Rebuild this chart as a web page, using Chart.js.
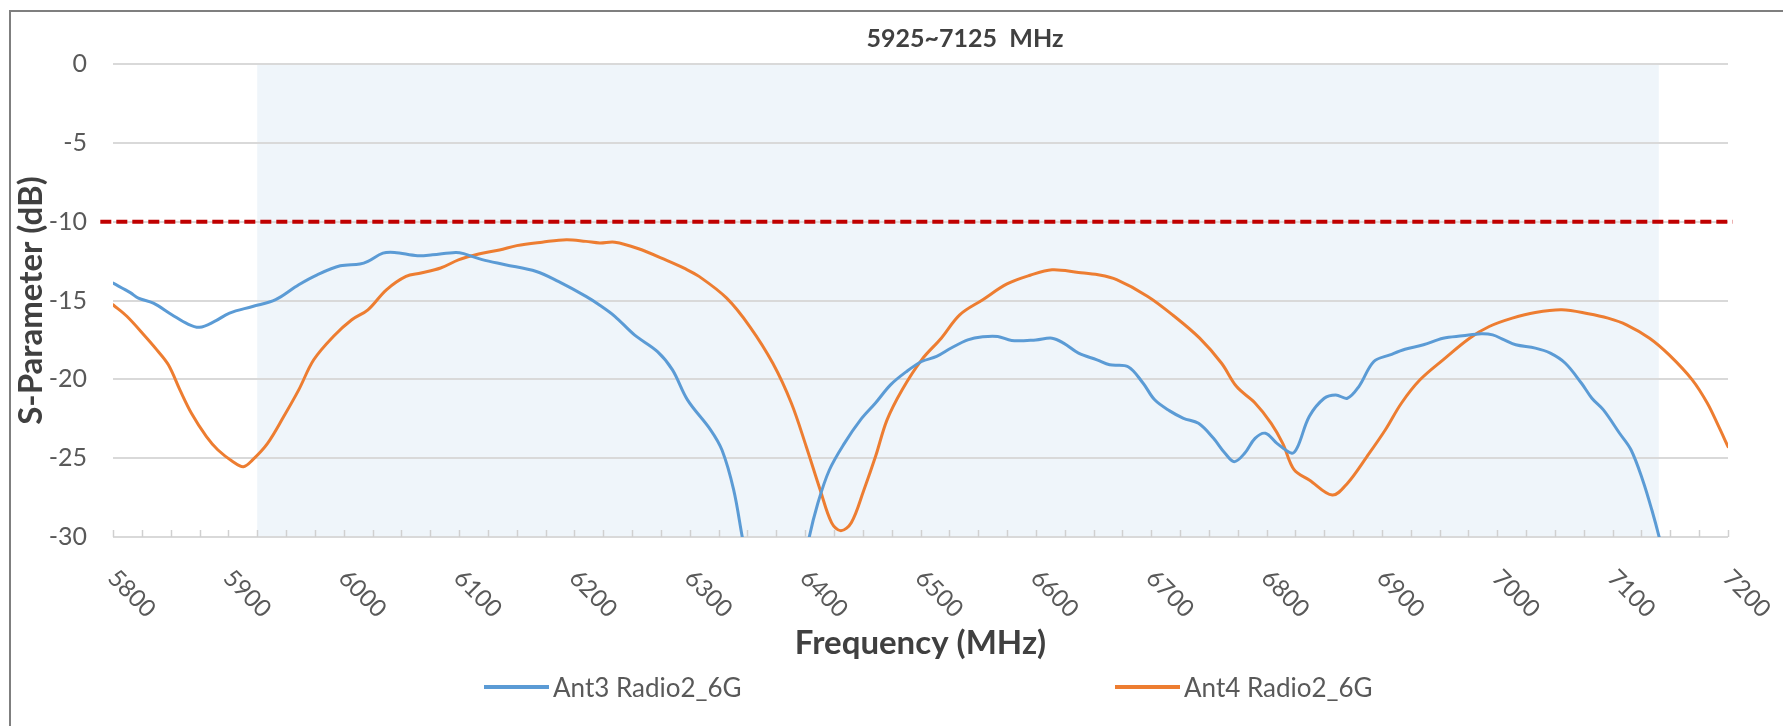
<!DOCTYPE html>
<html>
<head>
<meta charset="utf-8">
<script src="https://cdn.jsdelivr.net/npm/chart.js@4.4.1/dist/chart.umd.min.js"></script>
<style>
  html, body { margin: 0; padding: 0; background: #ffffff; }
  #wrap { position: relative; width: 1783px; height: 726px; overflow: hidden; background: #ffffff; }
  #frame { position: absolute; left: 9px; top: 10px; width: 1900px; height: 900px;
           border-top: 2px solid #7f7f7f; border-left: 2px solid #7f7f7f; }
  #c { position: absolute; left: 0; top: 0; }
  #title { position: absolute; left: 965px; top: 37px; transform: translate(-50%, -50%);
           font-family: Lato, "Open Sans", sans-serif; font-weight: bold; font-size: 25px;
           line-height: 1; color: #404040; white-space: pre; }
  .leg { position: absolute; top: 687px; transform: translateY(-50%); display: flex; align-items: center;
         font-family: Lato, "Open Sans", sans-serif; font-size: 26px; line-height: 1; color: #595959; white-space: pre; }
  .leg .ln { width: 65px; height: 3.5px; margin-right: 4px; }
</style>
</head>
<body>
<div id="wrap">
  <div id="frame"></div>
  <canvas id="c" width="1783" height="726"></canvas>
  <div id="title"></div>
  <div id="legend"></div>
</div>
<script>
// ---------------- data ----------------
const chartTitle = '5925~7125  MHz';
const xAxisTitle = 'Frequency (MHz)';
const yAxisTitle = 'S-Parameter (dB)';
const seriesNames = ['Ant3 Radio2_6G', 'Ant4 Radio2_6G'];

const freqAnt3 = [5800,5815,5822,5835,5851,5865,5875,5888,5901,5921,5941,5961,5977,5997,6014,6021,6034,6044,6064,6077,6097,6104,6120,6140,6167,6186,6210,6222,6235,6252,6272,6285,6298,6318,6328,6338,6346,6355,6368,6382,6395,6403,6411,6421,6434,6448,6461,6474,6488,6501,6514,6527,6541,6554,6567,6579,6600,6614,6624,6637,6653,6664,6680,6693,6703,6716,6728,6741,6754,6764,6772,6781,6790,6799,6809,6822,6827,6837,6850,6860,6870,6880,6893,6907,6920,6936,6953,6970,6986,6996,7006,7016,7033,7046,7059,7073,7082,7092,7106,7116,7126,7134,7141,7150,7175,7200];
const sParamAnt3 = [-13.9,-14.5,-14.85,-15.17,-15.9,-16.5,-16.7,-16.33,-15.8,-15.38,-14.95,-14.0,-13.37,-12.8,-12.69,-12.52,-12.0,-11.95,-12.16,-12.1,-11.95,-12.03,-12.41,-12.73,-13.16,-13.79,-14.74,-15.3,-16.0,-17.18,-18.24,-19.4,-21.3,-23.2,-24.5,-27.0,-30.2,-33.5,-37.0,-38.0,-33.5,-30.2,-27.86,-25.75,-24.06,-22.57,-21.5,-20.35,-19.5,-18.87,-18.55,-18.0,-17.5,-17.3,-17.28,-17.54,-17.5,-17.39,-17.7,-18.34,-18.76,-19.08,-19.2,-20.25,-21.3,-22.0,-22.47,-22.79,-23.74,-24.69,-25.22,-24.69,-23.74,-23.42,-24.06,-24.69,-24.27,-22.36,-21.2,-20.99,-21.2,-20.46,-18.87,-18.45,-18.09,-17.81,-17.39,-17.24,-17.11,-17.18,-17.5,-17.81,-18.02,-18.34,-18.98,-20.25,-21.2,-21.94,-23.42,-24.48,-26.38,-28.29,-30.2,-33.0,-38.5,-43.0];

const freqAnt4 = [5800,5812,5828,5838,5848,5858,5868,5881,5891,5904,5913,5921,5934,5948,5961,5974,5991,6007,6021,6037,6054,6067,6084,6100,6117,6135,6150,6172,6193,6210,6222,6235,6255,6280,6295,6308,6332,6352,6372,6388,6401,6413,6423,6431,6440,6451,6461,6471,6484,6501,6518,6534,6554,6575,6595,6614,6637,6654,6670,6697,6720,6742,6761,6774,6790,6804,6814,6824,6837,6857,6870,6887,6903,6917,6933,6953,6976,6993,7013,7033,7056,7079,7096,7112,7132,7149,7169,7182,7192,7200];
const sParamAnt4 = [-15.27,-16.0,-17.28,-18.13,-19.08,-20.67,-22.15,-23.63,-24.48,-25.22,-25.54,-25.11,-24.06,-22.36,-20.67,-18.76,-17.28,-16.22,-15.59,-14.32,-13.47,-13.26,-12.94,-12.41,-12.05,-11.8,-11.52,-11.3,-11.14,-11.25,-11.35,-11.3,-11.7,-12.45,-12.95,-13.47,-14.85,-16.65,-18.98,-21.5,-24.27,-27.0,-29.1,-29.6,-29.1,-27.0,-24.9,-22.57,-20.67,-18.76,-17.39,-15.91,-14.95,-13.95,-13.4,-13.05,-13.22,-13.37,-13.68,-14.74,-16.0,-17.39,-18.98,-20.46,-21.5,-22.79,-24.06,-25.75,-26.38,-27.34,-26.6,-24.9,-23.2,-21.5,-20.03,-18.76,-17.39,-16.65,-16.12,-15.76,-15.59,-15.84,-16.12,-16.54,-17.39,-18.45,-20.03,-21.5,-23.0,-24.27];

const limitFreq = [5789, 7204];
const limitLevel = [-10, -10];
const bandEdges = [5925, 7140];

const xLabelTicks = [5800,5900,6000,6100,6200,6300,6400,6500,6600,6700,6800,6900,7000,7100,7200];
const xMinorStep = 25;
const yTicks = [0,-5,-10,-15,-20,-25,-30];

// ---------------- styles ----------------
const seriesColors = ['#5b9bd5', '#ed7d31'];
const FONT = 'Lato, "Open Sans", sans-serif';

function pairs(xs, ys) { return xs.map((x, i) => ({ x: x, y: ys[i] })); }

document.getElementById('title').textContent = chartTitle;

const bandPlugin = {
  id: 'band',
  beforeDraw(chart) {
    const { ctx, chartArea, scales } = chart;
    const x1 = scales.x.getPixelForValue(bandEdges[0]);
    const x2 = scales.x.getPixelForValue(bandEdges[1]);
    ctx.save();
    ctx.fillStyle = '#eff5fa';
    ctx.fillRect(x1, chartArea.top, x2 - x1, chartArea.bottom - chartArea.top);
    ctx.restore();
  }
};

const xAxisPlugin = {
  id: 'xaxisdecor',
  beforeDatasetsDraw(chart) {
    const { ctx, scales } = chart;
    const xs = scales.x;
    const yb = chart.chartArea.bottom;
    ctx.save();
    ctx.strokeStyle = '#d0d0d0';
    ctx.lineWidth = 1.5;
    for (let v = xs.min; v <= xs.max + 1e-6; v += xMinorStep) {
      const px = Math.round(xs.getPixelForValue(v)) + 0.5;
      ctx.beginPath();
      ctx.moveTo(px, yb);
      ctx.lineTo(px, yb - 7);
      ctx.stroke();
    }
    ctx.restore();
  },
  afterDraw(chart) {
    const { ctx, scales } = chart;
    const xs = scales.x;
    ctx.save();
    ctx.fillStyle = '#595959';
    ctx.font = '24px ' + FONT;
    ctx.textAlign = 'left';
    ctx.textBaseline = 'middle';
    xLabelTicks.forEach(v => {
      const px = xs.getPixelForValue(v);
      ctx.save();
      ctx.translate(px - 1, xs.top + 37);
      ctx.rotate(Math.PI / 4);
      ctx.fillText(String(v), 0, 0);
      ctx.restore();
    });
    ctx.restore();
  }
};

function draw() {
  const chart = new Chart(document.getElementById('c'), {
    type: 'line',
    data: {
      datasets: [
        { label: seriesNames[0], data: pairs(freqAnt3, sParamAnt3), borderColor: seriesColors[0],
          backgroundColor: seriesColors[0], borderWidth: 3, pointRadius: 0, fill: false,
          tension: 0.35, borderJoinStyle: 'round', borderCapStyle: 'round' },
        { label: seriesNames[1], data: pairs(freqAnt4, sParamAnt4), borderColor: seriesColors[1],
          backgroundColor: seriesColors[1], borderWidth: 3, pointRadius: 0, fill: false,
          tension: 0.35, borderJoinStyle: 'round', borderCapStyle: 'round' },
        { label: 'limit', data: pairs(limitFreq, limitLevel), borderColor: '#c00000',
          borderWidth: 4, borderDash: [11, 5], pointRadius: 0, fill: false, clip: false, tension: 0 }
      ]
    },
    options: {
      responsive: false,
      animation: false,
      devicePixelRatio: 1,
      layout: { padding: { top: 64, right: 55, bottom: 0, left: 0 } },
      plugins: { legend: { display: false }, title: { display: false }, tooltip: { enabled: false } },
      scales: {
        x: {
          type: 'linear', min: 5800, max: 7200,
          ticks: { display: false, stepSize: 100 },
          grid: { display: false },
          border: { display: false },
          title: { display: true, text: xAxisTitle, color: '#404040',
                   font: { family: FONT, size: 33, weight: 'bold' }, padding: { top: 0, bottom: 63 } },
          afterFit(scale) { scale.height = 189; }
        },
        y: {
          type: 'linear', min: yTicks[yTicks.length - 1], max: yTicks[0],
          ticks: { stepSize: 5, color: '#595959', padding: 26, font: { family: FONT, size: 25 } },
          grid: { color: '#d9d9d9', lineWidth: 2, drawTicks: false },
          border: { display: false },
          title: { display: true, text: yAxisTitle, color: '#404040',
                   font: { family: FONT, size: 33, weight: 'bold' }, padding: { top: 12, bottom: 0 } },
          afterFit(scale) { scale.width = 113; }
        }
      }
    },
    plugins: [bandPlugin, xAxisPlugin]
  });

  // HTML legend built from dataset labels/colors
  const legend = document.getElementById('legend');
  const lefts = [484, 1115];
  chart.data.datasets.slice(0, 2).forEach((ds, i) => {
    const item = document.createElement('div');
    item.className = 'leg';
    item.style.left = lefts[i] + 'px';
    const ln = document.createElement('span');
    ln.className = 'ln';
    ln.style.background = ds.borderColor;
    const tx = document.createElement('span');
    tx.textContent = ds.label;
    item.appendChild(ln);
    item.appendChild(tx);
    legend.appendChild(item);
  });
}

Promise.all([
  document.fonts.load('25px Lato'),
  document.fonts.load('bold 25px Lato')
]).then(draw, draw);
</script>
</body>
</html>
